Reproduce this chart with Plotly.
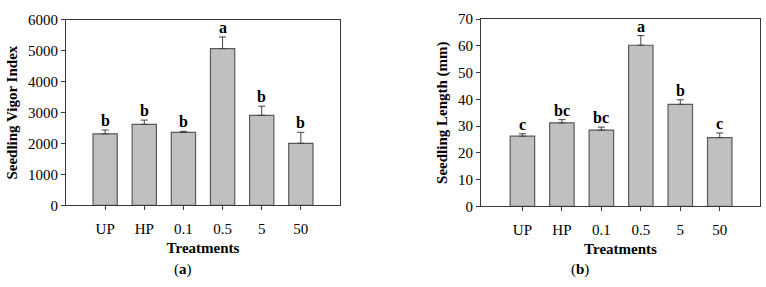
import plotly.graph_objects as go

categories = ["UP", "HP", "0.1", "0.5", "5", "50"]

vigor_mean = [2315, 2620, 2364, 5076, 2915, 2009]
vigor_err = [122, 140, 31, 374, 296, 355]
vigor_letters = ["b", "b", "b", "a", "b", "b"]

length_mean = [26.2, 31.2, 28.5, 60.2, 38.1, 25.7]
length_err = [0.9, 1.2, 1.1, 3.6, 1.7, 1.7]
length_letters = ["c", "bc", "bc", "a", "b", "c"]

vigor_ticks = [0, 1000, 2000, 3000, 4000, 5000, 6000]
length_ticks = [0, 10, 20, 30, 40, 50, 60, 70]

FONT = "Liberation Serif"
BAR_FILL = "#c0c0c0"
BAR_LINE = "#5a5a5a"
AX = "#3a3a3a"

fig = go.Figure()

def add_panel(means, errs, xa, ya):
    fig.add_trace(go.Bar(
        x=categories, y=means, xaxis=xa, yaxis=ya, width=0.62,
        marker=dict(color=BAR_FILL, line=dict(color=BAR_LINE, width=1.2)),
        error_y=dict(type="data", array=errs, arrayminus=[0] * len(errs),
                     symmetric=False, color="#404040", thickness=1, width=3.5),
        showlegend=False, hoverinfo="skip",
    ))

add_panel(vigor_mean, vigor_err, "x", "y")
add_panel(length_mean, length_err, "x2", "y2")

annotations = []
for i, (m, e, lab) in enumerate(zip(vigor_mean, vigor_err, vigor_letters)):
    annotations.append(dict(x=i, y=m + e, xref="x", yref="y", text="<b>%s</b>" % lab,
                            showarrow=False, yanchor="bottom", yshift=-1,
                            font=dict(family=FONT, size=16, color="black")))
for i, (m, e, lab) in enumerate(zip(length_mean, length_err, length_letters)):
    annotations.append(dict(x=i, y=m + e, xref="x2", yref="y2", text="<b>%s</b>" % lab,
                            showarrow=False, yanchor="bottom", yshift=-1,
                            font=dict(family=FONT, size=16, color="black")))

annotations.append(dict(x=183 / 766, y=1 - 277 / 287, xref="paper", yref="paper",
                        text="(<b>a</b>)", showarrow=False, xanchor="center", yanchor="middle",
                        font=dict(family=FONT, size=15, color="black")))
annotations.append(dict(x=580 / 766, y=1 - 277 / 287, xref="paper", yref="paper",
                        text="(<b>b</b>)", showarrow=False, xanchor="center", yanchor="middle",
                        font=dict(family=FONT, size=15, color="black")))

tickfont = dict(family=FONT, size=15, color="black")
titlefont = dict(family=FONT, size=15, color="black")

def xaxis(domain, rng, anchor):
    return dict(domain=domain, anchor=anchor, range=rng, type="category",
                showline=True, linecolor=AX, linewidth=1, mirror=True,
                ticks="outside", ticklen=4, tickcolor=AX, tickwidth=1,
                tickfont=tickfont, ticklabelstandoff=6, showgrid=False, zeroline=False,
                title=dict(text="<b>Treatments</b>", font=titlefont, standoff=6))

def yaxis(domain, rng, ticks, title, standoff, anchor):
    return dict(domain=domain, anchor=anchor, range=rng, tickvals=ticks,
                showline=True, linecolor=AX, linewidth=1, mirror=True,
                ticks="outside", ticklen=4, tickcolor=AX, tickwidth=1,
                tickfont=tickfont, showgrid=False, zeroline=False,
                title=dict(text="<b>%s</b>" % title, font=titlefont, standoff=standoff))

fig.update_layout(
    width=766, height=287,
    margin=dict(l=0, r=0, t=0, b=0),
    paper_bgcolor="white", plot_bgcolor="white",
    xaxis=xaxis([66 / 766, 340 / 766], [-1, 6.0], "y"),
    yaxis=yaxis([1 - 209 / 287, 1 - 12.7 / 287], [0, 6000], vigor_ticks,
                "Seedling Vigor Index", 6, "x"),
    xaxis2=xaxis([481 / 766, 760 / 766], [-1.05, 6.02], "y2"),
    yaxis2=yaxis([1 - 210 / 287, 1 - 11.7 / 287], [0, 70], length_ticks,
                 "Seedling Length (mm)", 6, "x2"),
    annotations=annotations,
)

fig.write_html("out.html")
